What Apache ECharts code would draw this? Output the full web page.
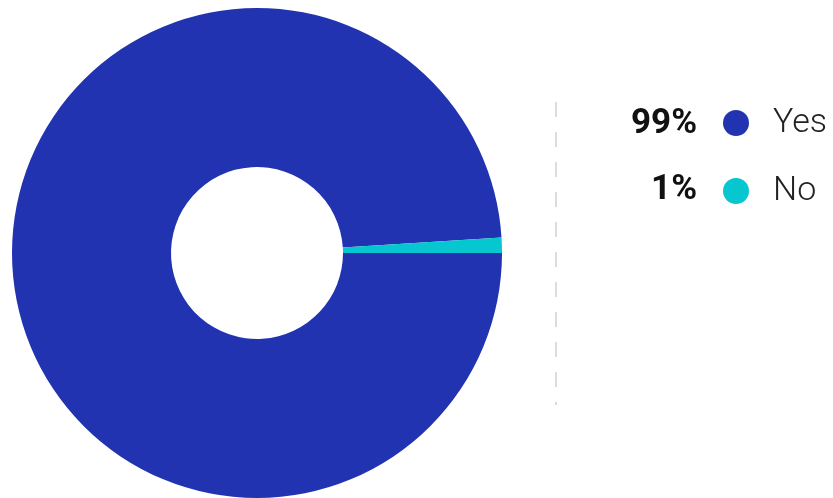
<!DOCTYPE html>
<html>
<head>
<meta charset="utf-8">
<script src="https://cdn.jsdelivr.net/npm/echarts@6/dist/echarts.min.js"></script>
<style>
  html, body { margin: 0; padding: 0; background: #fff; }
  #chart { width: 833px; height: 498px; }
</style>
</head>
<body>
<div id="chart"></div>
<script>
// data
var categories = ['Yes', 'No'];
var values = [99, 1];
var colors = ['#2133b0', '#06c6cf'];

var total = values.reduce(function (a, b) { return a + b; }, 0);
var pctLabels = values.map(function (v) { return Math.round(v / total * 100) + '%'; });

var myChart = echarts.init(document.getElementById('chart'));

var rowTop = 122, rowGap = 66;
var graphics = [{
  type: 'line',
  shape: { x1: 556, y1: 102, x2: 556, y2: 405 },
  style: { stroke: '#dcdcdc', lineWidth: 2, lineDash: [15, 15] }
}];
pctLabels.forEach(function (t, i) {
  graphics.push({
    type: 'text',
    x: 697,
    y: rowTop + i * rowGap + 2,
    style: {
      text: t,
      align: 'right',
      verticalAlign: 'middle',
      font: 'bold 35px Roboto',
      fill: '#111'
    }
  });
});

myChart.setOption({
  animation: false,
  color: colors,
  graphic: graphics,
  legend: {
    orient: 'vertical',
    left: 723,
    top: rowTop - 16,
    padding: 0,
    icon: 'circle',
    itemWidth: 26,
    itemHeight: 26,
    itemGap: 34,
    selectedMode: false,
    data: categories,
    textStyle: {
      fontFamily: 'Roboto',
      fontWeight: 300,
      fontSize: 34,
      color: '#222',
      padding: [0, 0, 0, 19]
    }
  },
  series: [{
    type: 'pie',
    center: [257, 253],
    radius: [86, 245],
    startAngle: 0,
    clockwise: true,
    label: { show: false },
    labelLine: { show: false },
    emphasis: { disabled: true },
    itemStyle: { borderWidth: 0 },
    data: categories.map(function (c, i) {
      return { name: c, value: values[i] };
    })
  }]
});
</script>
</body>
</html>
